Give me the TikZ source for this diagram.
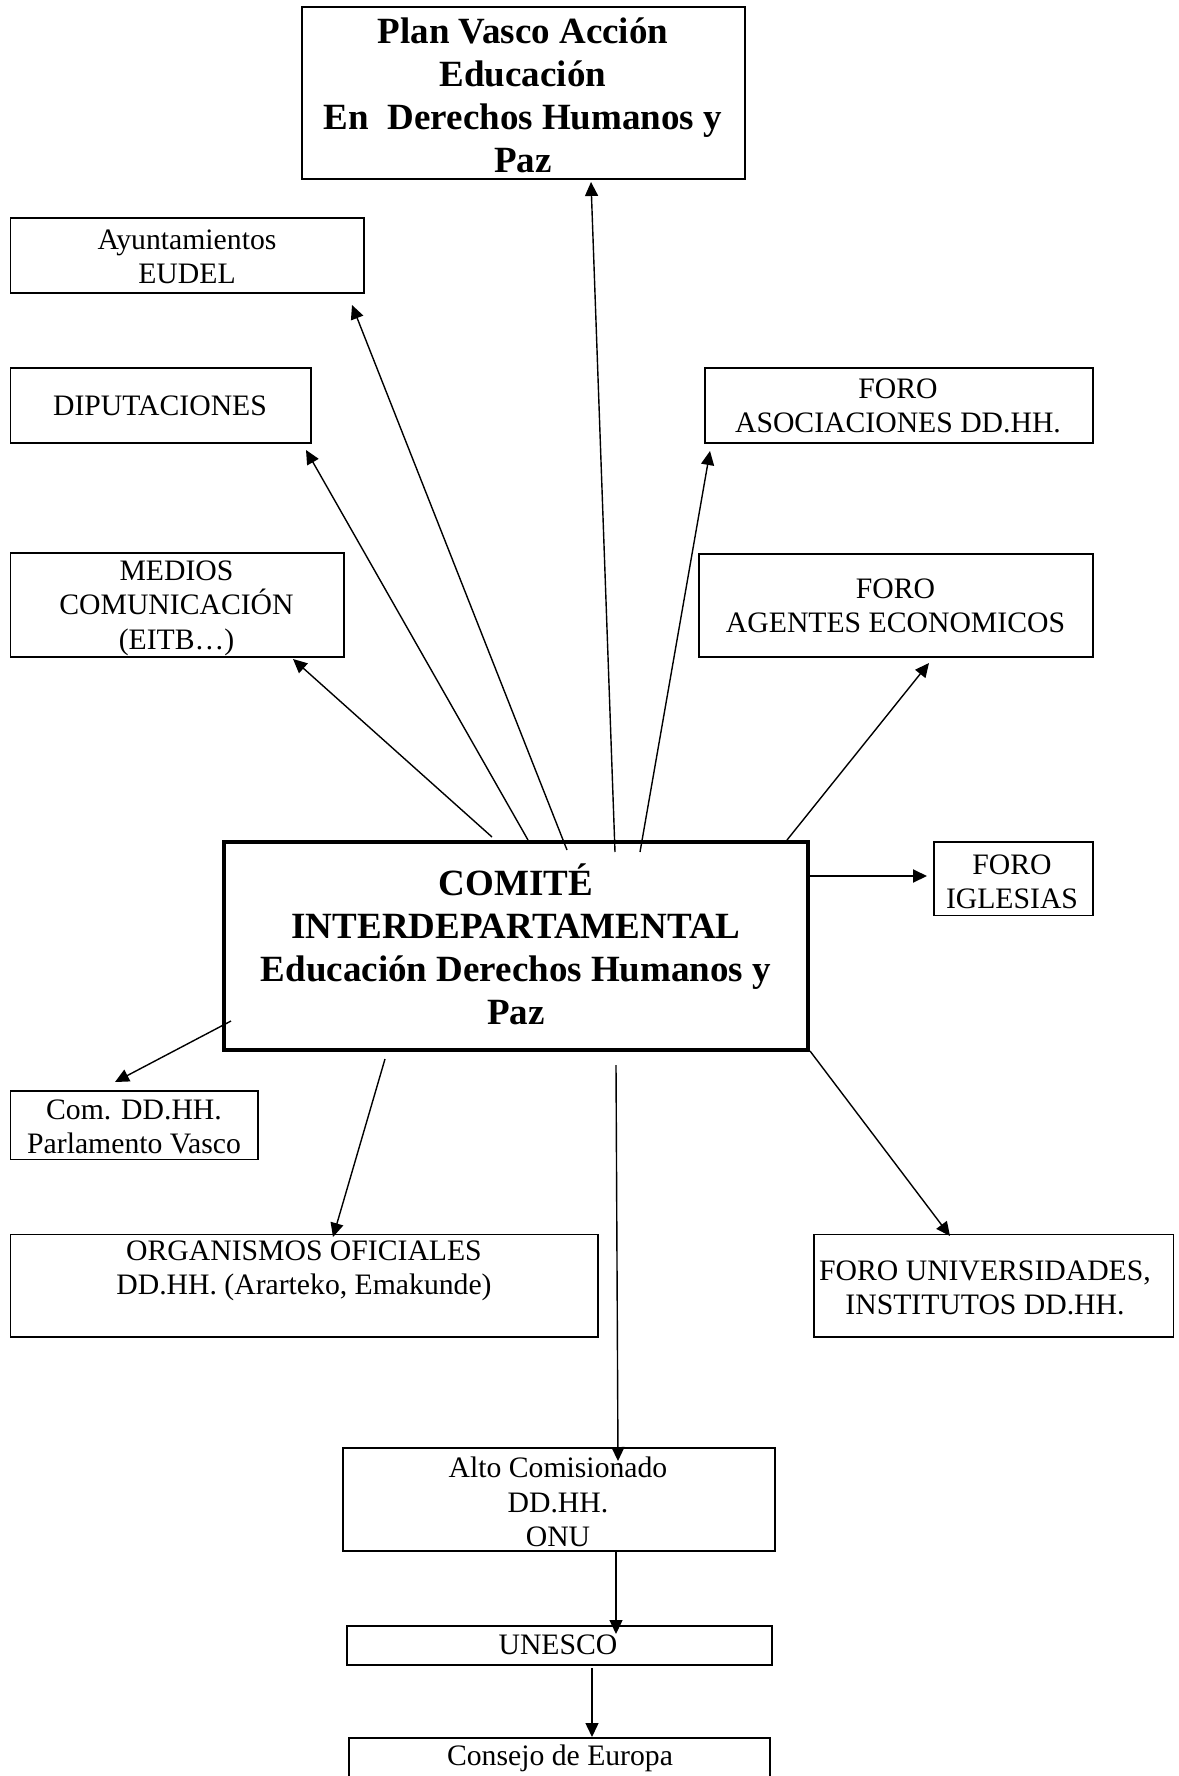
\documentclass[tikz,border=0pt]{standalone}
\usepackage{fontspec}
\setmainfont{Liberation Serif}
\usetikzlibrary{arrows.meta,fit}
\begin{document}
\begin{tikzpicture}[x=1pt,y=-1pt,
  box/.style={draw,line width=1.8pt,inner sep=0pt},
  bigbox/.style={draw,line width=4pt,inner sep=0pt},
  txt/.style={align=center,inner sep=0pt,font=\fontsize{29.7}{34.5}\selectfont},
  btxt/.style={align=center,inner sep=0pt,font=\fontsize{37}{43}\selectfont\bfseries},
  arr/.style={line width=1.4pt,-{Triangle[length=14pt,width=13pt]}}]
\useasboundingbox (0,0) rectangle (1178,1776);
\fill[white] (0,0) rectangle (1178,1776);
\clip (0,0) rectangle (1178,1776);
% boxes
\node[box,fit={(302,7) (745,179)}] (plan) {};
\node[box,fit={(10.5,218) (364,293)}] (ayun) {};
\node[box,fit={(10.5,368) (311,443)}] (dipu) {};
\node[box,fit={(705,368) (1093,443)}] (asoc) {};
\node[box,fit={(10.5,553) (344,657)}] (medios) {};
\node[box,fit={(699,554) (1093,657)}] (agentes) {};
\node[bigbox,fit={(224,842) (808,1050)}] (comite) {};
\node[box,fit={(934,842) (1093,915.5)}] (iglesias) {};
\node[box,fit={(10.5,1091) (258,1159.5)}] (comdd) {};
\node[box,fit={(10.5,1234.5) (598,1336.7)}] (organ) {};
\node[box,fit={(814,1234.5) (1173.5,1336.7)}] (univ) {};
\node[box,fit={(342.6,1448) (774.6,1551)}] (alto) {};
\node[box,fit={(347,1626) (771.6,1665)}] (unesco) {};
\node[box,fit={(348.6,1738) (770,1800)}] (consejo) {};
% texts
\node[btxt] (planT) at (523,95) {Plan Vasco Acción\\Educación\\En\ \ Derechos Humanos y\\Paz};
\node[txt] (ayunT) at (187,257) {Ayuntamientos\\EUDEL};
\node[txt] (dipuT) at (160,406) {DIPUTACIONES};
\node[txt] (asocT) at (898,406) {FORO\\ASOCIACIONES DD.HH.};
\node[txt] (mediosT) at (176.5,608) {MEDIOS\\COMUNICACIÓN\\(EITB…)};
\node[txt] (agentesT) at (895.5,606) {FORO\\AGENTES ECONOMICOS};
\node[btxt] (comiteT) at (516,944) {COMITÉ\\INTERDEPARTAMENTAL\\Educación Derechos Humanos y\\Paz};
\node[txt] (iglesiasT) at (1012,882) {FORO\\IGLESIAS};
\node[txt] (comddT) at (134,1127) {Com. DD.HH.\\Parlamento Vasco};
\node[txt] (organT) at (304,1271) {ORGANISMOS OFICIALES\\DD.HH. (Ararteko, Emakunde)};
\node[txt] (univT) at (985,1288) {FORO UNIVERSIDADES,\\INSTITUTOS DD.HH.};
\node[txt] (altoT) at (558,1502) {Alto Comisionado\\DD.HH.\\ONU};
\node[txt] (unescoT) at (558,1645) {UNESCO};
\node[txt] (consejoT) at (560,1758) {Consejo de Europa};
% connector ends
\coordinate (s1) at (615,852);  \coordinate (e1) at (591,182);
\coordinate (s2) at (567,850);  \coordinate (e2) at (352,305);
\coordinate (s3) at (528,840);  \coordinate (e3) at (306,450);
\coordinate (s4) at (492,837);  \coordinate (e4) at (293,659);
\coordinate (s5) at (640,852);  \coordinate (e5) at (710,451);
\coordinate (s6) at (787,840);  \coordinate (e6) at (929,663);
\coordinate (s7) at (810,876);  \coordinate (e7) at (927,876);
\coordinate (s8) at (231,1021); \coordinate (e8) at (115,1082);
\coordinate (s9) at (385,1059); \coordinate (e9) at (333,1237);
\coordinate (s10) at (616,1065); \coordinate (e10) at (618,1461);
\coordinate (s11) at (810,1051); \coordinate (e11) at (950,1236);
\coordinate (s12) at (616,1551); \coordinate (e12) at (616,1634);
\coordinate (s13) at (592,1668); \coordinate (e13) at (592,1737);
\foreach \i in {1,2,3,4,5,6,8,9,10,11,12,13} {\draw[arr] (s\i) -- (e\i);}
\draw[arr,line width=1.9pt] (s7) -- (e7);
\end{tikzpicture}
\end{document}
